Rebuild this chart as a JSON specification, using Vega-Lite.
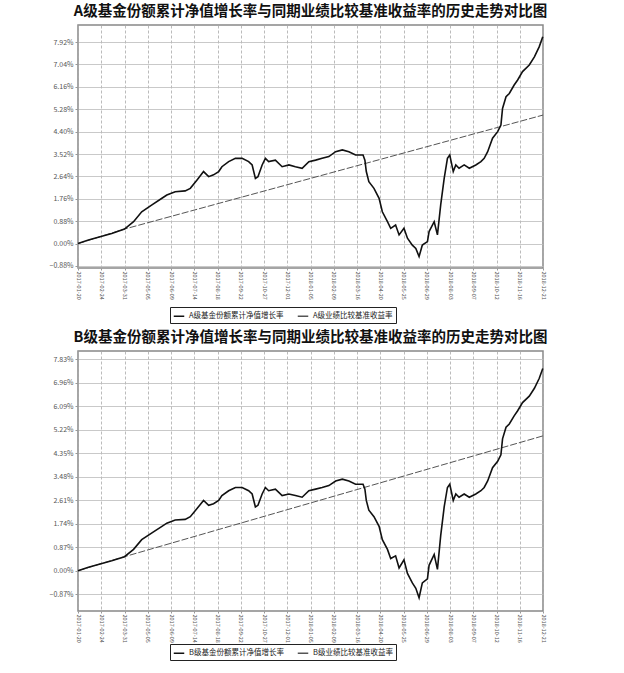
{
  "$schema": "https://vega.github.io/schema/vega-lite/v6.json",
  "padding": {"left": 48, "top": 2, "right": 5, "bottom": 2},
  "background": "white",
  "config": {
    "font": "Noto Sans CJK SC",
    "view": {"stroke": "#888", "strokeWidth": 1.5},
    "title": {"fontSize": 14.5, "fontWeight": "bold", "color": "#111", "offset": 6, "anchor": "middle"},
    "axis": {"labelFontSize": 7, "labelColor": "#555", "tickColor": "#999", "tickSize": 3, "domain": false, "gridColor": "#aaa", "gridDash": [3, 2], "gridWidth": 0.8, "title": null},
    "axisY": {"gridDash": [], "gridColor": "#bbb"},
    "axisX": {"tickSize": 2, "labelPadding": 1, "labelFontSize": 5.5},
    "legend": {"orient": "none", "direction": "horizontal", "strokeColor": "#222", "padding": 3, "labelFontSize": 7.5, "labelColor": "#222", "symbolType": "stroke", "symbolSize": 110, "symbolStrokeWidth": 1.5, "title": null, "columnPadding": 10, "labelLimit": 220}
  },
  "datasets": {
    "a_fund": [
      {"t":0,"v":0.00},{"t":0.45,"v":0.14},{"t":0.95,"v":0.27},{"t":1.45,"v":0.40},{"t":2.00,"v":0.57},{"t":2.39,"v":0.86},{"t":2.74,"v":1.25},{"t":3.18,"v":1.52},{"t":3.61,"v":1.78},{"t":3.82,"v":1.91},{"t":4.18,"v":2.04},{"t":4.61,"v":2.07},{"t":4.83,"v":2.17},{"t":5.12,"v":2.50},{"t":5.40,"v":2.83},{"t":5.62,"v":2.63},{"t":5.83,"v":2.70},{"t":6.05,"v":2.83},{"t":6.19,"v":3.02},{"t":6.48,"v":3.22},{"t":6.77,"v":3.35},{"t":7.06,"v":3.35},{"t":7.34,"v":3.22},{"t":7.49,"v":3.09},{"t":7.63,"v":2.56},{"t":7.74,"v":2.63},{"t":7.92,"v":3.09},{"t":8.06,"v":3.35},{"t":8.20,"v":3.22},{"t":8.49,"v":3.28},{"t":8.78,"v":3.02},{"t":9.07,"v":3.09},{"t":9.35,"v":3.02},{"t":9.64,"v":2.96},{"t":9.93,"v":3.22},{"t":10.22,"v":3.28},{"t":10.50,"v":3.35},{"t":10.79,"v":3.42},{"t":11.08,"v":3.61},{"t":11.37,"v":3.68},{"t":11.65,"v":3.61},{"t":11.94,"v":3.48},{"t":12.26,"v":3.48},{"t":12.34,"v":3.28},{"t":12.40,"v":2.83},{"t":12.51,"v":2.43},{"t":12.73,"v":2.17},{"t":12.95,"v":1.78},{"t":13.09,"v":1.25},{"t":13.31,"v":0.86},{"t":13.45,"v":0.60},{"t":13.66,"v":0.73},{"t":13.81,"v":0.34},{"t":14.02,"v":0.60},{"t":14.17,"v":0.21},{"t":14.38,"v":-0.06},{"t":14.53,"v":-0.19},{"t":14.67,"v":-0.51},{"t":14.81,"v":-0.06},{"t":15.03,"v":0.08},{"t":15.10,"v":0.47},{"t":15.32,"v":0.86},{"t":15.46,"v":0.34},{"t":15.60,"v":1.52},{"t":15.75,"v":2.56},{"t":15.89,"v":3.35},{"t":15.99,"v":3.48},{"t":16.14,"v":2.83},{"t":16.25,"v":3.09},{"t":16.39,"v":2.96},{"t":16.61,"v":3.09},{"t":16.83,"v":2.96},{"t":17.11,"v":3.09},{"t":17.33,"v":3.22},{"t":17.47,"v":3.35},{"t":17.62,"v":3.61},{"t":17.83,"v":4.14},{"t":18.05,"v":4.40},{"t":18.19,"v":4.66},{"t":18.26,"v":5.31},{"t":18.41,"v":5.77},{"t":18.55,"v":5.90},{"t":18.76,"v":6.23},{"t":18.91,"v":6.43},{"t":19.12,"v":6.76},{"t":19.41,"v":7.02},{"t":19.63,"v":7.34},{"t":19.84,"v":7.74},{"t":19.99,"v":8.13}
    ],
    "a_bench": [{"t":0,"v":0.00},{"t":0.95,"v":0.27},{"t":2.0,"v":0.57},{"t":20,"v":5.05}],
    "b_fund": [
      {"t":0,"v":0.00},{"t":0.45,"v":0.13},{"t":0.95,"v":0.25},{"t":1.45,"v":0.37},{"t":2.00,"v":0.52},{"t":2.39,"v":0.79},{"t":2.74,"v":1.15},{"t":3.18,"v":1.40},{"t":3.61,"v":1.64},{"t":3.82,"v":1.76},{"t":4.18,"v":1.88},{"t":4.61,"v":1.90},{"t":4.83,"v":2.00},{"t":5.12,"v":2.30},{"t":5.40,"v":2.60},{"t":5.62,"v":2.42},{"t":5.83,"v":2.48},{"t":6.05,"v":2.60},{"t":6.19,"v":2.78},{"t":6.48,"v":2.96},{"t":6.77,"v":3.08},{"t":7.06,"v":3.08},{"t":7.34,"v":2.96},{"t":7.49,"v":2.84},{"t":7.63,"v":2.36},{"t":7.74,"v":2.42},{"t":7.92,"v":2.84},{"t":8.06,"v":3.08},{"t":8.20,"v":2.96},{"t":8.49,"v":3.02},{"t":8.78,"v":2.78},{"t":9.07,"v":2.84},{"t":9.35,"v":2.78},{"t":9.64,"v":2.72},{"t":9.93,"v":2.96},{"t":10.22,"v":3.02},{"t":10.50,"v":3.08},{"t":10.79,"v":3.15},{"t":11.08,"v":3.32},{"t":11.37,"v":3.39},{"t":11.65,"v":3.32},{"t":11.94,"v":3.20},{"t":12.26,"v":3.20},{"t":12.34,"v":3.02},{"t":12.40,"v":2.60},{"t":12.51,"v":2.24},{"t":12.73,"v":2.00},{"t":12.95,"v":1.64},{"t":13.09,"v":1.15},{"t":13.31,"v":0.79},{"t":13.45,"v":0.45},{"t":13.66,"v":0.55},{"t":13.81,"v":0.10},{"t":14.02,"v":0.40},{"t":14.17,"v":-0.10},{"t":14.38,"v":-0.45},{"t":14.53,"v":-0.65},{"t":14.67,"v":-1.00},{"t":14.81,"v":-0.45},{"t":15.03,"v":-0.30},{"t":15.10,"v":0.20},{"t":15.32,"v":0.60},{"t":15.46,"v":0.05},{"t":15.60,"v":1.30},{"t":15.75,"v":2.36},{"t":15.89,"v":3.08},{"t":15.99,"v":3.20},{"t":16.14,"v":2.60},{"t":16.25,"v":2.84},{"t":16.39,"v":2.72},{"t":16.61,"v":2.84},{"t":16.83,"v":2.72},{"t":17.11,"v":2.84},{"t":17.33,"v":2.96},{"t":17.47,"v":3.08},{"t":17.62,"v":3.32},{"t":17.83,"v":3.81},{"t":18.05,"v":4.05},{"t":18.19,"v":4.29},{"t":18.26,"v":4.88},{"t":18.41,"v":5.31},{"t":18.55,"v":5.43},{"t":18.76,"v":5.73},{"t":18.91,"v":5.92},{"t":19.12,"v":6.22},{"t":19.41,"v":6.46},{"t":19.63,"v":6.75},{"t":19.84,"v":7.12},{"t":19.99,"v":7.48}
    ],
    "b_bench": [{"t":0,"v":0.00},{"t":0.95,"v":0.25},{"t":2.0,"v":0.52},{"t":20,"v":4.99}]
  },
  "vconcat": [
    {
      "title": "A级基金份额累计净值增长率与同期业绩比较基准收益率的历史走势对比图",
      "width": 465,
      "height": 243,
      "encoding": {
        "x": {"field": "t", "type": "quantitative", "scale": {"domain": [0, 20], "nice": false, "zero": false},
              "axis": {"values": [0,1,2,3,4,5,6,7,8,9,10,11,12,13,14,15,16,17,18,19,20], "labelAngle": 90, "labelAlign": "left", "labelBaseline": "middle",
                       "labelExpr": "timeFormat(datetime(2017, 0, 20 + datum.value * 35), '%Y-%m-%d')"}},
        "y": {"field": "v", "type": "quantitative", "scale": {"domain": [-0.96, 8.59], "nice": false, "zero": false},
              "axis": {"values": [-0.88,0,0.88,1.76,2.64,3.52,4.40,5.28,6.16,7.04,7.92], "labelExpr": "format(datum.value, '.2f') + '%'"}}
      },
      "layer": [
        {"data": {"name": "a_bench"}, "mark": {"type": "line", "strokeWidth": 1, "strokeDash": [7, 2]},
         "encoding": {"color": {"datum": "A级业绩比较基准收益率", "type": "nominal",
           "scale": {"domain": ["A级基金份额累计净值增长率", "A级业绩比较基准收益率"], "range": ["#111", "#555"]},
           "legend": {"legendX": 92, "legendY": 282}}}},
        {"data": {"name": "a_fund"}, "mark": {"type": "line", "strokeWidth": 1.6},
         "encoding": {"color": {"datum": "A级基金份额累计净值增长率", "type": "nominal"}}}
      ],
      "resolve": {"scale": {"color": "shared"}}
    },
    {
      "title": "B级基金份额累计净值增长率与同期业绩比较基准收益率的历史走势对比图",
      "width": 465,
      "height": 260,
      "encoding": {
        "x": {"field": "t", "type": "quantitative", "scale": {"domain": [0, 20], "nice": false, "zero": false},
              "axis": {"values": [0,1,2,3,4,5,6,7,8,9,10,11,12,13,14,15,16,17,18,19,20], "labelAngle": 90, "labelAlign": "left", "labelBaseline": "middle",
                       "labelExpr": "timeFormat(datetime(2017, 0, 20 + datum.value * 35), '%Y-%m-%d')"}},
        "y": {"field": "v", "type": "quantitative", "scale": {"domain": [-1.49, 8.13], "nice": false, "zero": false},
              "axis": {"values": [-0.87,0,0.87,1.74,2.61,3.48,4.35,5.22,6.09,6.96,7.83], "labelExpr": "format(datum.value, '.2f') + '%'"}}
      },
      "layer": [
        {"data": {"name": "b_bench"}, "mark": {"type": "line", "strokeWidth": 1, "strokeDash": [7, 2]},
         "encoding": {"color": {"datum": "B级业绩比较基准收益率", "type": "nominal",
           "scale": {"domain": ["B级基金份额累计净值增长率", "B级业绩比较基准收益率"], "range": ["#111", "#555"]},
           "legend": {"legendX": 92, "legendY": 293}}}},
        {"data": {"name": "b_fund"}, "mark": {"type": "line", "strokeWidth": 1.6},
         "encoding": {"color": {"datum": "B级基金份额累计净值增长率", "type": "nominal"}}}
      ]
    }
  ],
  "resolve": {"scale": {"color": "independent"}, "legend": {"color": "independent"}},
  "spacing": 3
}
